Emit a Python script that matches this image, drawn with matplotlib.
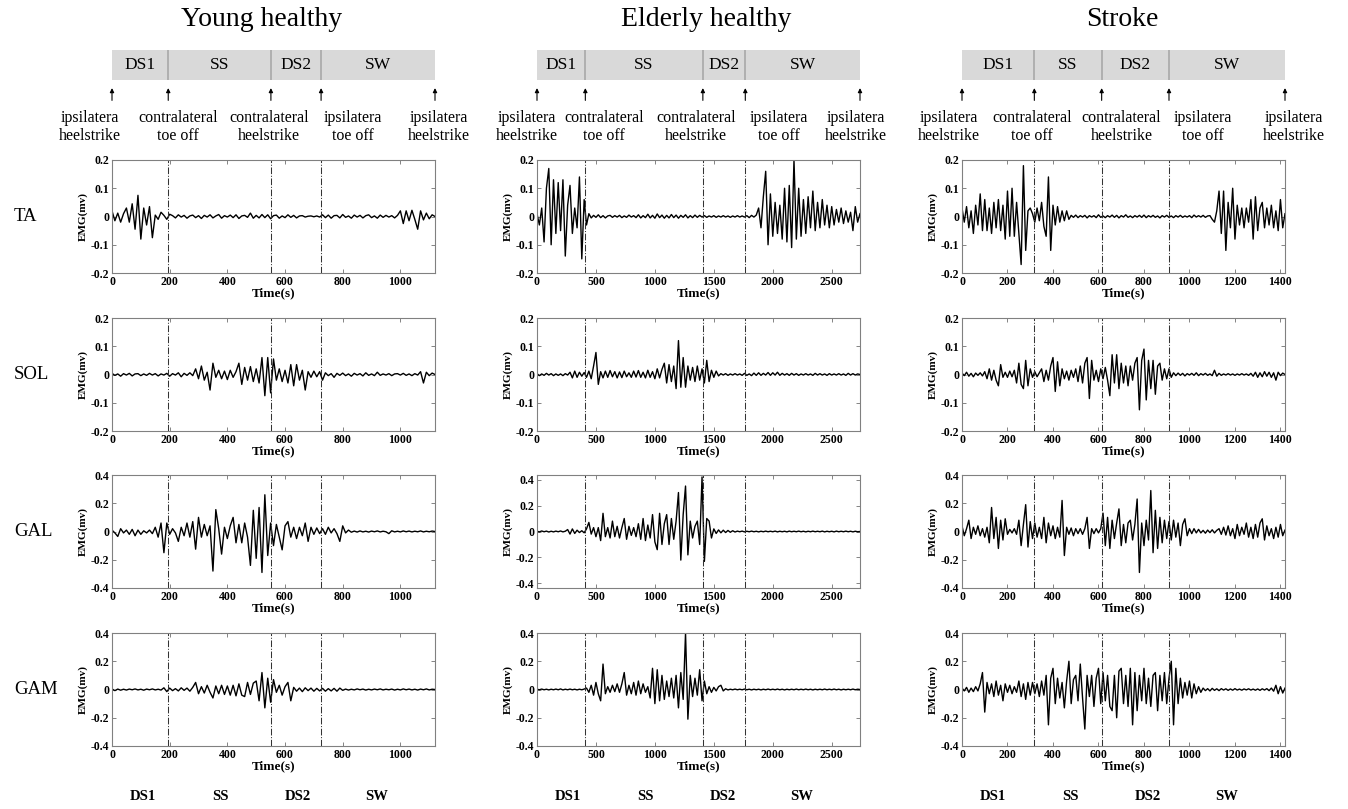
import numpy as np
import matplotlib.pyplot as plt
import matplotlib.transforms as mtransforms

# ----------------- data (EMG traces) -----------------

phases = ["DS1", "SS", "DS2", "SW"]
event_labels = ["ipsilatera\nheelstrike", "contralateral\ntoe off", "contralateral\nheelstrike",
                "ipsilatera\ntoe off", "ipsilatera\nheelstrike"]
muscles = ["TA", "SOL", "GAL", "GAM"]

# young healthy: 0..1120 s
yh_dur = 1120
yh_events = [0, 195, 551, 725, 1120]
yh_xticks = [0, 200, 400, 600, 800, 1000]
yh_ylim = [0.2, 0.2, 0.4, 0.4]

yh_ta = [0.02, -0.015, 0.012, -0.02, 0.01, 0.03, -0.02, 0.045, -0.045, 0.075,
         -0.08, 0.03, -0.03, 0.035, -0.075, 0.005, -0.01, 0.015, 0.004, -0.01,
         0.008,
         0.003, -0.005, 0.006, -0.002, 0.004, -0.006, 0.002, 0.005, -0.004, 0.003,
         -0.007, 0.004, -0.002, 0.006, -0.005, 0.002, 0.007, -0.006, 0.003, -0.002,
         0.005, -0.004, 0.006, -0.007, 0.002, 0.004, -0.003, 0.012, -0.006, 0.004,
         -0.005, 0.007, -0.004, 0.006, -0.008, 0.003, 0.005, -0.006, 0.002, -0.004,
         0.006, -0.003, 0.004, -0.005, 0.002, 0.003, -0.002, 0.001, 0.002, -0.001,
         0.002, -0.002, 0.006, -0.004, 0.005, -0.006, 0.003, 0.004, -0.005, 0.007,
         -0.003, 0.002, -0.006, 0.005, -0.002, 0.004, -0.005, 0.003, 0.006, -0.004,
         0.002, -0.006, 0.005, -0.003, 0.004, -0.002, 0.003, -0.005, 0.004,
         0.02, -0.025, 0.02, -0.015, 0.022, -0.01, -0.045, 0.02, -0.012, 0.012,
         -0.008, 0.006, 0.0]

yh_sol = [0.004, -0.003, 0.002, -0.006, 0.003, -0.002, 0.004, -0.005, 0.002, 0.003,
          -0.004, 0.002, -0.003, 0.004, -0.002, 0.003, -0.005, 0.002, -0.002, 0.004,
          -0.006, 0.003, -0.002, 0.006, -0.008, 0.004, -0.003, 0.006, -0.004,
          0.02, -0.015, 0.03, -0.02, 0.008, -0.055, 0.04, -0.01, 0.015, -0.015,
          0.012, -0.018, 0.015, -0.01, 0.01, 0.04, -0.035, 0.025, -0.02, 0.028,
          -0.025, 0.02, -0.03, 0.06, -0.075, 0.06, -0.065, 0.055, -0.02, 0.02,
          -0.025, 0.015, -0.03, 0.035, -0.04, 0.035, -0.02, 0.015, -0.055, 0.01,
          -0.01, 0.012, -0.008, 0.01, -0.02,
          0.006, -0.004, 0.003, -0.01, 0.004, -0.003, 0.005, -0.004, 0.002, -0.006,
          0.004, -0.002, 0.003, -0.005, 0.006, -0.003, 0.002, -0.004, 0.008, -0.003,
          0.002, -0.002, 0.003, -0.004, 0.002, 0.003, -0.002, 0.004, -0.003, 0.002,
          -0.004, 0.003, -0.002, 0.01, -0.03, 0.008, -0.004, 0.005, 0.0]

yh_gal = [0.01, -0.01, -0.035, 0.02, -0.01, 0.01, -0.02, 0.015, -0.03, 0.01,
          -0.02, 0.005, -0.01, 0.01, -0.015, 0.03, -0.04, 0.06, -0.15, 0.06,
          -0.02, 0.02, -0.01, -0.07, 0.03, -0.03, 0.06, -0.04, 0.07, -0.125,
          0.1, -0.04, 0.05, -0.03, 0.04, -0.28, 0.155, 0.02, -0.16, 0.03,
          -0.05, 0.04, 0.1, -0.08, 0.05, -0.08, 0.06, -0.04, -0.24, 0.15,
          -0.19, 0.17, -0.29, 0.26, -0.17, 0.06, -0.1, 0.05, -0.04, -0.13,
          0.04, 0.07, -0.04, 0.03, -0.05, 0.03, -0.03, 0.06, -0.07, 0.03,
          -0.02, 0.025, -0.015, 0.02, -0.02, 0.03, -0.01, 0.02, -0.015, -0.07,
          0.04, -0.01, 0.01,
          -0.005, 0.003, -0.004, 0.004, -0.003, 0.002, -0.004, 0.003, -0.002, 0.004,
          -0.003, 0.002, -0.002, -0.015, 0.005, -0.003, 0.002, -0.003, 0.004, -0.002,
          0.003, -0.003, 0.002, -0.002, 0.004, -0.003, 0.002, -0.002, 0.003, 0.0]

yh_gam = [0.004, -0.008, 0.003, -0.005, 0.002, -0.004, 0.003, -0.002, 0.004, -0.003,
          0.002, -0.005, 0.003, -0.002, 0.004, -0.003, 0.002, -0.004,
          0.012, -0.015, 0.01,
          -0.008, 0.006, -0.01, 0.012, -0.006, 0.01, -0.012, 0.015,
          0.05, -0.03, 0.02, -0.025, 0.03, -0.02, -0.06, 0.025, -0.03, 0.03,
          -0.035, 0.025, -0.04, 0.03, -0.045, 0.04, -0.04, -0.05, 0.05, -0.035,
          0.045, 0.06, -0.08, 0.12, -0.13, 0.08, -0.09, 0.07, -0.02, 0.03,
          -0.04, 0.02, 0.05, -0.08, 0.015, -0.012, 0.01, -0.015, 0.012, -0.008,
          0.01, -0.012, 0.008, -0.01, 0.008, -0.012, 0.006, -0.01, 0.008, -0.012,
          0.01, -0.006,
          0.003, -0.004, 0.002, -0.003, 0.004, -0.002, 0.003, -0.004, 0.002, -0.003,
          0.003, -0.002, 0.004, -0.003, 0.002, -0.002, 0.003, -0.004, 0.002, -0.003,
          0.004, -0.002, 0.003, -0.003, 0.002, -0.004, 0.003, -0.002, 0.004, -0.003,
          0.002, 0.0]

# elderly healthy: 0..2740 s
eh_dur = 2740
eh_events = [0, 410, 1407, 1767, 2740]
eh_xticks = [0, 500, 1000, 1500, 2000, 2500]
eh_ylim = [0.2, 0.2, 0.435, 0.4]

eh_ta = [0.01, -0.03, 0.03, -0.09, 0.1, 0.17, -0.1, 0.13, -0.06, 0.12,
         -0.05, 0.13, -0.14, 0.04, 0.11, -0.06, 0.03, -0.04, 0.14, -0.15,
         0.06, -0.03, 0.01,
         -0.005, 0.004, -0.003, 0.006, -0.004, 0.003, -0.005, 0.002, 0.004, -0.003,
         0.003, -0.002, 0.004, -0.004, 0.002, -0.003, 0.005, -0.002, 0.003, -0.004,
         0.006, -0.005, 0.003, -0.004, 0.008, -0.005, 0.004, -0.006, 0.009, -0.004,
         0.005, -0.006, 0.004, -0.005, 0.007, -0.004, 0.005, -0.006, 0.004, -0.003,
         0.006, -0.005, 0.003, -0.004, 0.005, -0.003, 0.004, -0.002, 0.003, -0.003,
         0.002, -0.002, 0.003, -0.003, 0.002, -0.002, 0.003, -0.002, 0.002, -0.003,
         0.002, -0.002, 0.003, -0.002, 0.002, -0.002, 0.003, -0.004, 0.004, -0.002,
         0.005,
         0.03, -0.04, 0.07, 0.16, -0.1, 0.08, -0.07, 0.05, -0.06, 0.04,
         -0.08, 0.1, -0.09, 0.11, -0.11, 0.2, -0.08, 0.1, -0.07, 0.06,
         -0.06, 0.07, -0.04, 0.09, -0.05, 0.05, -0.04, 0.06, -0.03, 0.04,
         -0.04, 0.035, -0.03, 0.025, -0.02, 0.03, -0.025, 0.02, -0.02, 0.015,
         -0.05, 0.035, -0.02, 0.01]

eh_sol = [0.003, -0.004, 0.002, -0.003, 0.004, -0.002, 0.003, -0.004, 0.002, -0.003,
          0.002, -0.004, 0.003, -0.002,
          0.008, -0.012, 0.012, -0.01, 0.008, -0.006, 0.007, -0.01, 0.012, -0.015,
          0.03, 0.078, -0.035, 0.01, -0.012,
          0.012, -0.01, 0.014, -0.008, 0.01, -0.012, 0.009, -0.011, 0.012, -0.008,
          0.006, -0.01, 0.012, -0.009, 0.014, -0.01, 0.008, -0.012, 0.015, -0.01,
          0.01, -0.015, 0.02, -0.012, 0.018, 0.04, -0.03, 0.035, -0.025, 0.03,
          -0.05, 0.12, -0.045, 0.06, -0.045, 0.03, -0.02, 0.025, -0.025, 0.03,
          -0.02, 0.02, -0.03, 0.05, -0.025, 0.015, -0.01, 0.012, -0.005,
          0.003, -0.002, 0.003, -0.003, 0.002, -0.002, 0.003, -0.002, 0.002, -0.003,
          0.004, -0.003, 0.002, -0.004, 0.005, -0.003, 0.006, -0.003, 0.004, -0.002,
          0.007, -0.003, 0.006, -0.002, 0.008, -0.003, 0.004, -0.002, 0.003, -0.003,
          0.004, -0.002, 0.003, -0.003, 0.002, -0.002, 0.003, -0.002, 0.002, -0.003,
          0.004, -0.002, 0.003, -0.002, 0.002, -0.003, 0.003, -0.002, 0.002, -0.002,
          0.003, -0.002, 0.002, -0.003, 0.004, -0.002, 0.003, -0.002, 0.002, 0.0]

eh_gal = [0.002, -0.003, 0.004, -0.002, 0.003, -0.004, 0.002, -0.003, 0.003, -0.002,
          0.004, -0.003, 0.002,
          0.015, -0.02, 0.02, -0.015, 0.01, -0.008, 0.006, -0.01, 0.02, 0.07,
          -0.02, 0.03, -0.04, 0.03, -0.07, 0.14, -0.04, 0.03, -0.05, 0.08,
          -0.04, 0.04, -0.05, 0.03, 0.1, -0.06, 0.04, -0.03, 0.03, -0.04,
          0.06, -0.06, 0.1, -0.07, 0.05, -0.05, 0.13, -0.08, -0.14, 0.14,
          -0.1, 0.06, 0.13, -0.1, 0.1, -0.06, 0.08, 0.3, -0.22, 0.13,
          0.35, -0.18, 0.08, -0.05, 0.04, 0.08, -0.1, 0.42, -0.23, 0.1,
          0.08, -0.05, 0.02, -0.015, 0.012, -0.01, 0.01, -0.008, 0.008, -0.006,
          0.006, -0.004,
          0.003, -0.002, 0.003, -0.003, 0.002, -0.002, 0.003, -0.002, 0.002, -0.003,
          0.002, -0.002, 0.003, -0.002, 0.002, -0.002, 0.003, -0.003, 0.002, -0.002,
          0.002, -0.003, 0.003, -0.002, 0.002, -0.002, 0.003, -0.002, 0.002, -0.003,
          0.002, -0.002, 0.003, -0.002, 0.002, -0.002, 0.003, -0.003, 0.002, -0.002,
          0.002, -0.003, 0.003, -0.002, 0.002, -0.002, 0.003, -0.002, 0.002, -0.003,
          0.002, -0.002, 0.0]

eh_gam = [0.002, -0.002, 0.003, -0.002, 0.002, -0.003, 0.002, -0.002, 0.003, -0.002,
          0.004, -0.003, 0.002, -0.002, 0.003, -0.002, 0.002, -0.003, 0.002, -0.002,
          0.003,
          0.01, -0.02, 0.03, -0.04, 0.05, -0.03, -0.08, 0.18, -0.03, 0.02,
          -0.02, 0.03, -0.015, 0.04, -0.02, 0.04, 0.12, -0.04, 0.03, -0.03,
          0.05, -0.04, 0.06, -0.03, 0.04, -0.02, 0.02, -0.06, 0.15, -0.1,
          0.14, -0.08, 0.1, -0.07, 0.06, -0.05, 0.08, -0.06, 0.1, -0.13,
          0.12, -0.07, 0.4, -0.21, 0.1, -0.05, 0.08, -0.04, 0.14, -0.08,
          0.06, -0.03, 0.02, -0.02, 0.015, -0.01, 0.02, 0.03, -0.01, 0.005,
          -0.003, 0.002, -0.002, 0.003, -0.002, 0.002, -0.002, 0.003, -0.002, 0.002,
          -0.003, 0.002, -0.002, 0.002, -0.003, 0.002, -0.002, 0.003, -0.002, 0.002,
          -0.002, 0.003, -0.002, 0.002, -0.003, 0.002, -0.002, 0.002, -0.002, 0.003,
          -0.002, 0.002, -0.002, 0.003, -0.002, 0.002, -0.003, 0.002, -0.002, 0.002,
          -0.002, 0.003, -0.002, 0.002, -0.002, 0.003, -0.002, 0.002, -0.003, 0.002,
          -0.002, 0.002, -0.002, 0.003, -0.002, 0.002, 0.0]

# stroke: 0..1420 s
st_dur = 1420
st_events = [0, 318, 614, 910, 1420]
st_xticks = [0, 200, 400, 600, 800, 1000, 1200, 1400]
st_ylim = [0.2, 0.2, 0.4, 0.4]

st_ta = [0.03, -0.02, 0.035, -0.04, 0.02, -0.06, 0.04, -0.03, 0.08, -0.05,
         0.06, -0.05, 0.03, -0.06, 0.05, -0.04, 0.06, -0.05, 0.04, -0.08,
         0.09, -0.07, 0.1, -0.07, 0.05, -0.06, -0.17, 0.18, -0.12, 0.02,
         0.03, 0.01, -0.02, 0.03, -0.015, 0.05, -0.035, -0.07, 0.14, -0.12,
         0.04, -0.03, 0.035, -0.02, 0.02, -0.015, 0.02, -0.01,
         0.004, -0.003, 0.005, -0.004, 0.003, -0.002, 0.004, -0.005, 0.003, -0.002,
         0.003, -0.004, 0.006, -0.003, 0.002, -0.004, 0.003, -0.002, 0.005, -0.003,
         0.004, -0.005, 0.003, -0.002, 0.006, -0.003, 0.002, -0.004, 0.003, -0.002,
         0.004, -0.003, 0.005, -0.004, 0.003, -0.002, 0.004, -0.003, 0.002, -0.005,
         0.003, -0.002, 0.004, -0.003, 0.002, -0.004, 0.003, -0.002, 0.004, -0.003,
         0.002, -0.002, 0.003, -0.004, 0.005, -0.002, 0.003, -0.002, 0.004, -0.003,
         0.002, 0.003,
         -0.01, -0.02, 0.02, 0.09, -0.06, 0.09, -0.12, 0.05, -0.04, 0.1,
         -0.08, 0.04, -0.03, 0.03, -0.04, 0.03, -0.02, 0.06, -0.08, 0.07,
         -0.05, 0.03, 0.05, -0.04, 0.03, -0.03, 0.04, -0.04, 0.02, -0.05,
         0.06, -0.04, 0.01]

st_sol = [0.005, -0.004, 0.008, -0.006, 0.004, -0.008, 0.005, -0.003, 0.006, -0.005,
          0.01, -0.015, 0.02, -0.02, 0.015, -0.02, -0.04, 0.035, -0.01, 0.008,
          -0.01, 0.012, -0.008, 0.015, -0.03, 0.04, -0.035, -0.05, 0.05, -0.04,
          0.02, -0.01, 0.01, -0.008, 0.006, 0.02, -0.025, 0.015, -0.02, 0.03,
          0.06, -0.06, 0.045, -0.04, 0.02, -0.015, 0.012, -0.02, 0.015, -0.01,
          0.02, -0.025, 0.03, -0.03, 0.04, 0.06, -0.085, 0.05, -0.02, 0.015,
          -0.025, 0.02, -0.015, 0.025, -0.02, -0.075, 0.07, -0.03, 0.07, -0.05,
          0.04, -0.03, 0.03, -0.04, 0.03, -0.02, 0.04, 0.06, -0.125, 0.05,
          0.09, -0.09, 0.05, -0.05, 0.05, -0.07, 0.03, 0.04, -0.02, 0.02,
          -0.015, 0.02, -0.01,
          0.006, -0.004, 0.005, -0.003, 0.004, -0.005, 0.003, -0.002, 0.004, -0.003,
          0.006, -0.004, 0.003, -0.002, 0.004, -0.003, 0.002, -0.004, 0.015, -0.006,
          0.004, -0.003, 0.002, -0.002, 0.003, -0.002, 0.002, -0.003, 0.002, -0.002,
          0.003, -0.002, 0.002, -0.003, 0.004, -0.006, 0.008, -0.01, 0.006, -0.008,
          0.01, -0.006, 0.008, -0.01, 0.006, -0.02, 0.008, -0.004, 0.005, 0.0]

st_gal = [0.04, -0.03, 0.02, 0.08, -0.05, 0.03, -0.02, 0.04, -0.03, 0.02,
          -0.04, 0.03, -0.08, 0.17, -0.05, 0.1, -0.12, 0.08, -0.06, 0.09,
          -0.02, 0.015, -0.01, 0.02, -0.02, 0.08, -0.1, 0.05, 0.19, -0.11,
          0.07, -0.05, 0.06, -0.04, 0.03, -0.05, 0.1, -0.08, 0.06, -0.03,
          0.04, -0.05, 0.03, -0.04, 0.22, -0.17, 0.03, -0.02, 0.025, -0.03,
          0.02, -0.015, 0.02, -0.02, 0.02, 0.1, -0.12, 0.02, -0.015, 0.02,
          -0.01, 0.02, 0.13, -0.1, 0.1, -0.12, 0.08, -0.05, 0.06, 0.16,
          -0.1, 0.05, -0.08, 0.06, 0.08, -0.06, 0.05, 0.23, -0.29, 0.06,
          -0.1, 0.08, -0.06, 0.29, -0.15, 0.15, -0.12, 0.1, -0.08, 0.08,
          -0.05, 0.07, -0.06, 0.08, -0.04, 0.06, -0.1, 0.05, 0.09, -0.03,
          0.02,
          -0.015, 0.02, -0.01, 0.015, -0.01, 0.008, -0.012, 0.01, -0.008, 0.012,
          -0.01, 0.008,
          0.02, -0.02, 0.03, -0.025, 0.04, -0.03, 0.02, -0.05, 0.05, -0.03,
          0.03, -0.02, 0.06, -0.04, 0.03, -0.05, 0.05, -0.04, 0.06, 0.09,
          -0.06, 0.04, -0.03, 0.02, -0.05, 0.03, -0.04, 0.05, -0.03, 0.01]

st_gam = [0.01, -0.01, 0.015, -0.02, 0.01, -0.015, 0.02, -0.01, 0.04, 0.12,
          -0.16, 0.05, -0.03, 0.04, -0.05, 0.06, -0.04, 0.03, -0.08, 0.04,
          -0.02, 0.03, -0.03, 0.02, -0.02, 0.06, -0.05, 0.04, -0.07, 0.05,
          -0.04, 0.05, -0.03, 0.04, -0.05, 0.06, -0.04, 0.1, -0.25, 0.08,
          0.15, -0.1, 0.08, -0.06, 0.05, -0.13, 0.06, 0.2, -0.1, 0.07,
          0.1, -0.08, 0.18, -0.06, -0.28, 0.1, -0.05, 0.1, -0.12, 0.08,
          0.15, -0.1, 0.12, -0.08, 0.1, -0.12, -0.15, 0.1, -0.2, 0.13,
          0.15, -0.1, 0.1, -0.12, 0.15, -0.25, 0.12, -0.15, 0.1, -0.08,
          0.15, -0.1, 0.08, -0.12, 0.1, 0.12, -0.15, 0.1, -0.08, 0.12,
          -0.1, 0.08, 0.2, -0.25, 0.15, -0.1, 0.08, -0.06, 0.05, -0.04,
          0.06, -0.06, 0.04, -0.03, 0.02, -0.02,
          0.01, -0.008, 0.006, -0.01, 0.008, -0.006, 0.005, -0.008, 0.006, -0.004,
          0.005, -0.006, 0.004, -0.005, 0.006, -0.004, 0.003, -0.005, 0.004, -0.003,
          0.005, -0.004, 0.003, -0.005, 0.004, -0.006, 0.005, -0.004, 0.006, -0.008,
          0.01, -0.012,
          0.03, -0.03, 0.02, -0.025, 0.01]

# ----------------- layout (pixels of the 1348x809 figure) -----------------

W, H = 1348, 809
plt.rcParams['font.family'] = ['Liberation Serif', 'DejaVu Serif']
fig = plt.figure(figsize=(W / 100, H / 100), dpi=100)


def axes_px(left, top, width, height):
    return fig.add_axes([left / W, 1 - (top + height) / H, width / W, height / H])


col_left = [112, 537, 962]
ax_w = 323
row_top = [160, 318, 475, 633]
ax_h = 113
title_x = [262, 706, 1122]
label_shift = [[-22, 10, -2, 32, 4], [-10, 19, -7, 34, -4], [-13, -2, 20, 34, 9]]
bottom_frac = [0.096, 0.335, 0.574, 0.82]

groups = [
    ("Young healthy", yh_dur, yh_events, yh_xticks, yh_ylim, [yh_ta, yh_sol, yh_gal, yh_gam]),
    ("Elderly healthy", eh_dur, eh_events, eh_xticks, eh_ylim, [eh_ta, eh_sol, eh_gal, eh_gam]),
    ("Stroke", st_dur, st_events, st_xticks, st_ylim, [st_ta, st_sol, st_gal, st_gam]),
]

for c, (title, dur, events, xticks, ylims, traces) in enumerate(groups):
    left = col_left[c]

    # title
    fig.text(title_x[c] / W, 1 - 20 / H, title, fontsize=20, ha='center', va='center')

    # phase bar
    bar = axes_px(left, 50, ax_w, 30)
    bar.set_xlim(0, dur)
    bar.set_ylim(0, 1)
    bar.axis('off')
    bar.axvspan(0, dur, color='#d9d9d9', lw=0)
    bar.vlines(events[1:-1], 0, 1, color='#a8a8a8', lw=1.2)
    for k, name in enumerate(phases):
        mid = (events[k] + events[k + 1]) / 2
        bar.text(mid, 0.5, name, ha='center', va='center', fontsize=12.5)

    # arrows + event names
    blend = mtransforms.blended_transform_factory(bar.transData, bar.transAxes)
    for k, e in enumerate(events):
        bar.annotate('', xy=(e, -0.27), xytext=(e, -0.68), xycoords=blend,
                     textcoords=blend, annotation_clip=False,
                     arrowprops=dict(arrowstyle='-|>', color='black', lw=0.8,
                                     mutation_scale=6, shrinkA=0, shrinkB=0))
        tr = mtransforms.offset_copy(blend, fig=fig, x=label_shift[c][k], y=0, units='dots')
        bar.text(e, -1.57, event_labels[k], transform=tr, ha='center', va='center',
                 fontsize=11.5, linespacing=1.15, clip_on=False)

    # EMG panels
    for r, vals in enumerate(traces):
        ax = axes_px(left, row_top[r], ax_w, ax_h)
        t = np.linspace(0, dur, len(vals))
        ax.plot(t, vals, color='black', lw=1.0)
        for e in events[1:-1]:
            ax.axvline(e, color='#333333', ls='-.', lw=0.75)
        lim = ylims[r]
        step = 0.1 if lim < 0.3 else 0.2
        yt = [-2 * step, -step, 0, step, 2 * step]
        ax.set_xlim(0, dur)
        ax.set_ylim(-lim, lim)
        ax.set_xticks(xticks)
        ax.set_yticks(yt)
        ax.set_xticklabels([str(x) for x in xticks])
        ax.set_yticklabels([f'{round(v, 2):g}' for v in yt])
        ax.tick_params(direction='in', top=True, right=True, length=3, width=0.6,
                       color='#707070', labelsize=8.5, pad=2)
        for lab in ax.get_xticklabels() + ax.get_yticklabels():
            lab.set_fontweight('bold')
        for sp in ax.spines.values():
            sp.set_color('#808080')
            sp.set_linewidth(0.8)
        ax.set_xlabel('Time(s)', fontsize=9.5, fontweight='bold', labelpad=0)
        ax.set_ylabel('EMG(mv)', fontsize=8, fontweight='bold', labelpad=2)

        if c == 0:
            fig.text(14 / W, 1 - (row_top[r] + ax_h / 2) / H, muscles[r],
                     fontsize=13.5, ha='left', va='center')

    # phase names under the last row
    for k, name in enumerate(phases):
        fig.text((left + bottom_frac[k] * ax_w) / W, 1 - 796 / H, name,
                 fontsize=10.5, fontweight='bold', ha='center', va='center')

fig.savefig('out.png', dpi=100)
